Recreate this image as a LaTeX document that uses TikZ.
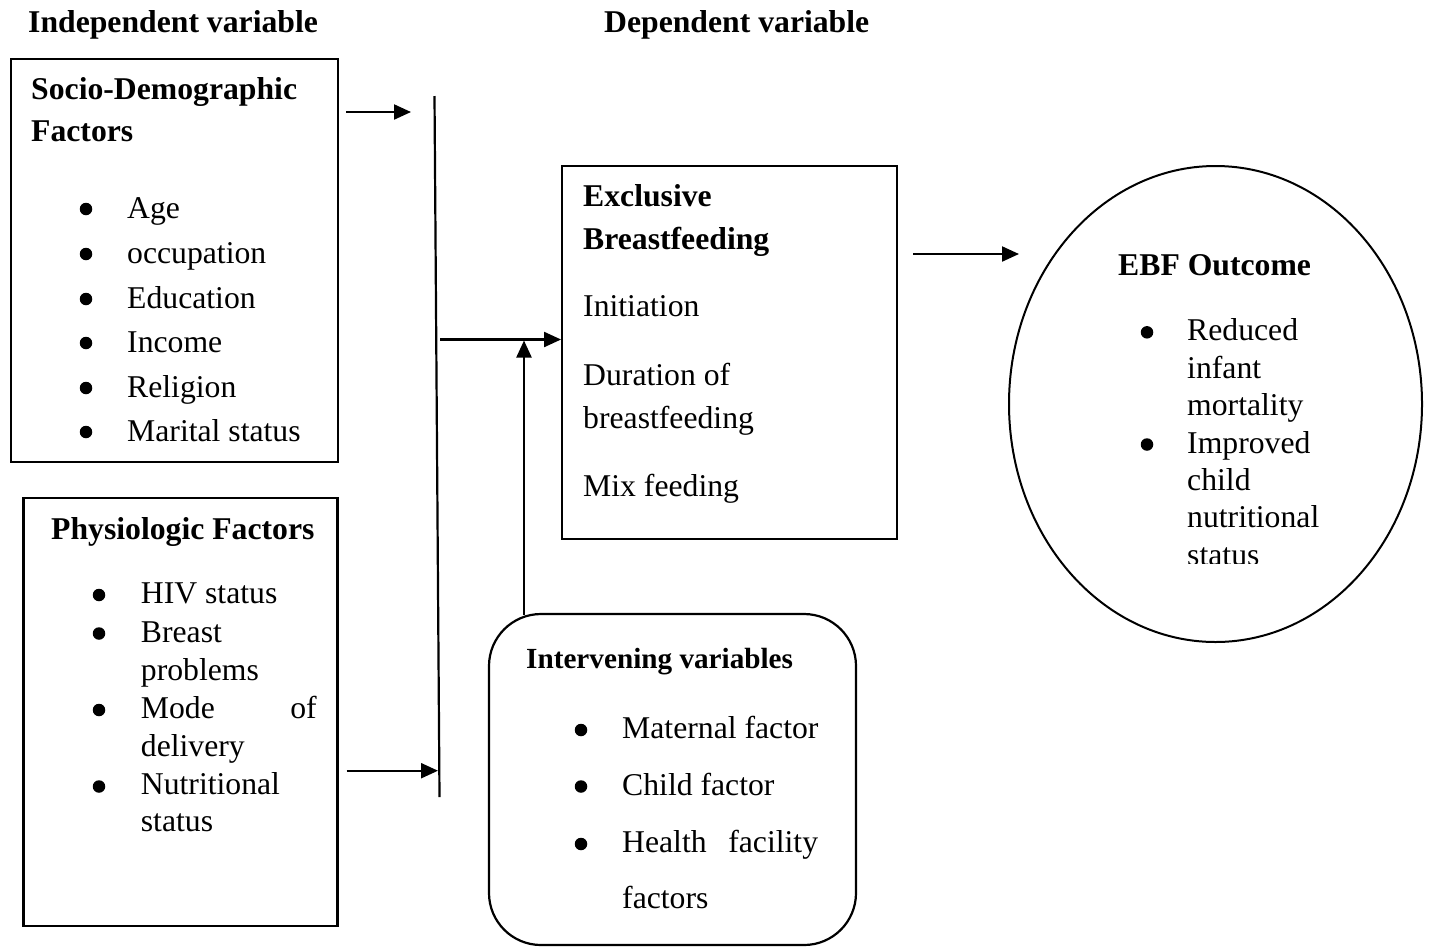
\documentclass[tikz,border=0pt]{standalone}
\usepackage{fontspec}
\setmainfont{Liberation Serif}
\usetikzlibrary{arrows.meta,shapes.geometric}
\begin{document}
\begin{tikzpicture}[x=1pt,y=-1pt,
  frame/.style={draw, line width=2.4pt, inner sep=0pt},
  txt/.style={anchor=base west, inner sep=0pt, font=\fontsize{31.7}{38}\selectfont},
  btxt/.style={anchor=base west, inner sep=0pt, font=\fontsize{31.7}{38}\selectfont\bfseries},
  conn/.style={line width=2.2pt},
  arr/.style={conn, -{Triangle[length=17pt,width=15pt]}},
  dot/.style={circle, fill, inner sep=0pt, minimum size=12.5pt}
]
\fill[white] (0,0) rectangle (1431,946);
\useasboundingbox (0,0) rectangle (1431,946);

% headers
\node[btxt] (hind) at (28,32) {Independent variable};
\node[btxt] (hdep) at (604,32) {Dependent variable};

% Socio-demographic box
\node[frame, minimum width=327pt, minimum height=403pt] (sd) at (174.2,260.7) {};
\node[btxt] (sdt1) at (31,99.5) {Socio-Demographic};
\node[btxt] (sdt2) at (31,141.7) {Factors};
\node[dot] (sdb1) at (86,209) {};
\node[txt] (sdi1) at (127,218) {Age};
\node[dot] (sdb2) at (86,254) {};
\node[txt] (sdi2) at (127,263) {occupation};
\node[dot] (sdb3) at (86,299) {};
\node[txt] (sdi3) at (127,308) {Education};
\node[dot] (sdb4) at (86,343) {};
\node[txt] (sdi4) at (127,352) {Income};
\node[dot] (sdb5) at (86,388) {};
\node[txt] (sdi5) at (127,397) {Religion};
\node[dot] (sdb6) at (86,432) {};
\node[txt] (sdi6) at (127,441) {Marital status};

% Physiologic box
\node[frame, minimum width=314pt, minimum height=428pt] (ph) at (180.5,712.2) {};
\node[btxt] (pht) at (51,539.3) {Physiologic Factors};
\node[dot] (phb1) at (99,595) {};
\node[txt] (phi1) at (140.7,603.3) {HIV status};
\node[dot] (phb2) at (99,633.5) {};
\node[txt] (phi2a) at (140.7,642.7) {Breast};
\node[txt] (phi2b) at (140.7,680) {problems};
\node[dot] (phb3) at (99,710) {};
\node[txt] (phi3a) at (140.7,718.3) {Mode};
\node[txt, anchor=base east] (phi3c) at (317,718.3) {of};
\node[txt] (phi3b) at (140.7,756) {delivery};
\node[dot] (phb4) at (99,786.5) {};
\node[txt] (phi4a) at (140.7,794.3) {Nutritional};
\node[txt] (phi4b) at (140.7,831.7) {status};

% Exclusive breastfeeding box
\node[frame, minimum width=334.5pt, minimum height=373pt] (ebf) at (729.5,352.5) {};
\node[btxt] (ebt1) at (583,206) {Exclusive};
\node[btxt] (ebt2) at (583,249.3) {Breastfeeding};
\node[txt] (ebi1) at (583,316.7) {Initiation};
\node[txt] (ebi2) at (583,385) {Duration of};
\node[txt] (ebi3) at (583,428.3) {breastfeeding};
\node[txt] (ebi4) at (583,496.7) {Mix feeding};

% Outcome ellipse
\node[draw, ellipse, line width=2pt, inner sep=0pt, minimum width=413pt, minimum height=476pt] (out) at (1215.5,404) {};
\node[btxt] (outt) at (1118,275) {EBF Outcome};
\node[dot] (outb1) at (1147,332.3) {};
\node[txt] (outi1a) at (1187,340.7) {Reduced};
\node[txt] (outi1b) at (1187,378.3) {infant};
\node[txt] (outi1c) at (1187,415.5) {mortality};
\node[dot] (outb2) at (1147,444.5) {};
\node[txt] (outi2a) at (1187,453) {Improved};
\node[txt] (outi2b) at (1187,490.5) {child};
\node[txt] (outi2c) at (1187,527) {nutritional};
\begin{scope}
\clip (1100,530) rectangle (1400,563);
\node[txt] (outi2d) at (1187,565) {status};
\end{scope}

% Intervening variables rounded box
\node[draw, line width=2.2pt, rounded corners=52pt, inner sep=0pt, minimum width=367pt, minimum height=331pt] (iv) at (672.5,779.5) {};
\node[btxt, font=\fontsize{29.2}{35}\selectfont\bfseries] (ivt) at (526,668.3) {Intervening variables};
\node[dot] (ivb1) at (581,730) {};
\node[txt] (ivi1) at (622,738.3) {Maternal factor};
\node[dot] (ivb2) at (581,786.5) {};
\node[txt] (ivi2) at (622,795) {Child factor};
\node[dot] (ivb3) at (581,844) {};
\node[txt] (ivi3a) at (622,852.7) {Health};
\node[txt, anchor=base east] (ivi3c) at (818.3,852.7) {facility};
\node[txt] (ivi3b) at (622,908.3) {factors};

% connectors
\coordinate (a1s) at (346,112);
\coordinate (a1e) at (411,112);
\draw[arr] (a1s) -- (a1e);

\coordinate (vt) at (434.5,96);
\coordinate (vb) at (439.5,797);
\draw[conn] (vt) -- (vb);

\coordinate (a2s) at (440,339.5);
\draw[arr] (a2s) -- (a2s -| ebf.west);

\coordinate (a3s) at (524,614.5);
\coordinate (a3e) at (524,340.5);
\draw[arr] (a3s) -- (a3e);

\coordinate (a4s) at (913,254);
\coordinate (a4e) at (1019,254);
\draw[arr] (a4s) -- (a4e);

\coordinate (a5s) at (346.7,770.7);
\coordinate (a5e) at (438,770.7);
\draw[arr] (a5s) -- (a5e);
\end{tikzpicture}
\end{document}
